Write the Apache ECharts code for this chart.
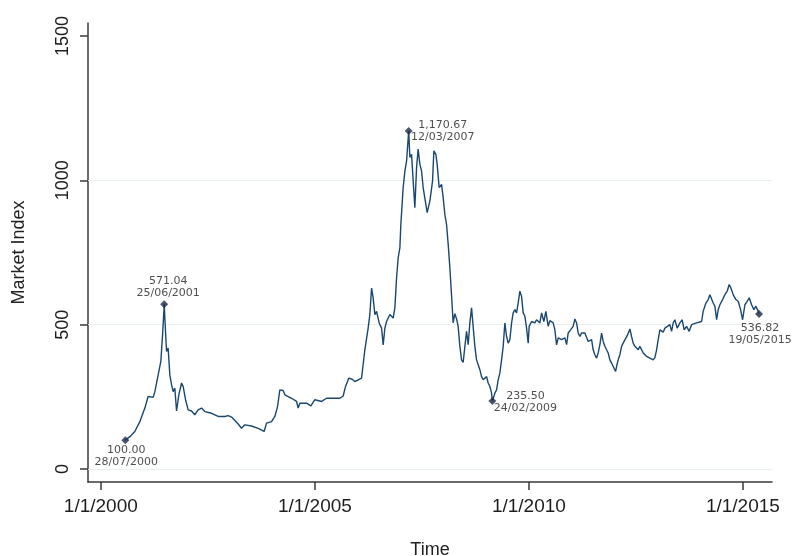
<!DOCTYPE html>
<html><head><meta charset="utf-8">
<script src="https://cdn.jsdelivr.net/npm/echarts@6/dist/echarts.min.js"></script>
<style>html,body{margin:0;padding:0;background:#fff}#c{width:792px;height:556px}</style>
</head><body><div id="c"></div>
<script>
// Time in decimal years
const years = [
2000.570, 2000.678, 2000.794, 2000.911, 2001.028, 2001.105, 2001.145, 2001.222, 2001.262, 2001.339,
2001.402, 2001.442, 2001.482, 2001.495, 2001.535, 2001.572, 2001.612, 2001.652, 2001.689, 2001.729,
2001.769, 2001.822, 2001.886, 2001.923, 2001.979, 2002.040, 2002.119, 2002.196, 2002.273, 2002.353,
2002.430, 2002.586, 2002.741, 2002.897, 2002.974, 2003.054, 2003.208, 2003.287, 2003.364, 2003.521,
2003.675, 2003.815, 2003.871, 2003.988, 2004.065, 2004.128, 2004.182, 2004.259, 2004.299, 2004.456,
2004.572, 2004.610, 2004.650, 2004.806, 2004.907, 2005.000, 2005.157, 2005.273, 2005.390, 2005.584,
2005.661, 2005.717, 2005.794, 2005.871, 2005.935, 2006.091, 2006.168, 2006.245, 2006.285, 2006.325,
2006.362, 2006.402, 2006.442, 2006.502, 2006.558, 2006.596, 2006.636, 2006.675, 2006.752, 2006.829,
2006.869, 2006.909, 2006.946, 2006.986, 2007.009, 2007.063, 2007.103, 2007.143, 2007.192, 2007.220,
2007.259, 2007.297, 2007.336, 2007.376, 2007.413, 2007.453, 2007.493, 2007.530, 2007.593, 2007.624,
2007.687, 2007.750, 2007.780, 2007.827, 2007.857, 2007.904, 2007.960, 2007.998, 2008.037, 2008.077,
2008.115, 2008.154, 2008.194, 2008.231, 2008.271, 2008.311, 2008.348, 2008.388, 2008.427, 2008.465,
2008.505, 2008.544, 2008.582, 2008.621, 2008.661, 2008.698, 2008.738, 2008.778, 2008.815, 2008.855,
2008.895, 2008.932, 2009.012, 2009.049, 2009.089, 2009.128, 2009.148, 2009.206, 2009.245, 2009.283,
2009.322, 2009.362, 2009.400, 2009.439, 2009.479, 2009.516, 2009.556, 2009.596, 2009.633, 2009.673,
2009.712, 2009.750, 2009.790, 2009.829, 2009.867, 2009.907, 2009.946, 2009.984, 2010.007, 2010.063,
2010.140, 2010.180, 2010.257, 2010.297, 2010.350, 2010.397, 2010.451, 2010.491, 2010.568, 2010.607,
2010.647, 2010.685, 2010.764, 2010.841, 2010.881, 2010.918, 2010.974, 2011.035, 2011.075, 2011.114,
2011.152, 2011.192, 2011.231, 2011.308, 2011.348, 2011.386, 2011.425, 2011.465, 2011.502, 2011.542,
2011.582, 2011.619, 2011.659, 2011.699, 2011.736, 2011.776, 2011.815, 2011.853, 2011.893, 2011.932,
2011.970, 2012.026, 2012.049, 2012.086, 2012.126, 2012.166, 2012.203, 2012.243, 2012.297, 2012.360,
2012.399, 2012.437, 2012.477, 2012.516, 2012.554, 2012.593, 2012.633, 2012.671, 2012.710, 2012.750,
2012.787, 2012.827, 2012.867, 2012.904, 2012.944, 2012.984, 2013.021, 2013.061, 2013.100, 2013.138,
2013.178, 2013.217, 2013.294, 2013.334, 2013.372, 2013.411, 2013.465, 2013.528, 2013.582, 2013.628,
2013.684, 2013.745, 2013.801, 2013.918, 2014.035, 2014.072, 2014.136, 2014.189, 2014.229, 2014.269,
2014.306, 2014.346, 2014.386, 2014.423, 2014.463, 2014.526, 2014.579, 2014.633, 2014.680, 2014.720,
2014.773, 2014.836, 2014.890, 2014.946, 2014.993, 2015.047, 2015.100, 2015.147, 2015.203, 2015.257,
2015.304, 2015.357, 2015.378
];
// Market index values
const values = [
100.00, 112, 130, 164, 211, 251, 257, 248, 268, 326,
373, 465, 571.04, 524, 407, 419, 326, 292, 268, 280,
201, 257, 298, 286, 240, 205, 201, 188, 205, 211,
199, 193, 182, 182, 185, 180, 156, 141, 153, 149,
141, 130, 159, 164, 182, 216, 274, 272, 257, 245,
234, 211, 228, 228, 219, 240, 234, 245, 245, 245,
253, 286, 315, 311, 303, 315, 413, 488, 535, 627,
593, 535, 546, 506, 488, 430, 488, 511, 535, 523,
558, 662, 731, 766, 847, 975, 1032, 1067, 1170.67, 1079,
1090, 998, 905, 1044, 1108, 1056, 1032, 975, 917, 888,
928, 998, 1102, 1090, 1056, 975, 986, 940, 882, 847,
778, 697, 600, 506, 538, 520, 494, 425, 378, 369,
425, 477, 431, 506, 558, 494, 425, 378, 373, 344,
320, 309, 320, 298, 286, 263, 235.50, 263, 274, 309,
332, 378, 425, 506, 459, 436, 448, 506, 541, 552,
541, 575, 616, 598, 541, 529, 488, 436, 494, 511,
506, 517, 506, 541, 511, 546, 494, 514, 506, 482,
430, 454, 448, 454, 431, 471, 482, 494, 520, 506,
471, 459, 471, 471, 477, 442, 436, 448, 413, 396,
384, 402, 431, 471, 442, 425, 413, 402, 378, 367,
361, 338, 355, 378, 396, 425, 436, 442, 462, 485,
459, 436, 425, 431, 413, 425, 425, 402, 396, 390,
396, 384, 378, 378, 386, 413, 448, 482, 488, 474,
488, 482, 500, 477, 506, 517, 488, 506, 517, 482,
494, 477, 500, 506, 511, 546, 575, 587, 604, 598,
575, 564, 517, 552, 569, 587, 604, 616, 639, 627,
604, 587, 581, 552, 517, 569, 581, 593, 569, 552,
564, 546, 536.82
];
// Annotated points
const annoDates = ['28/07/2000', '25/06/2001', '12/03/2007', '24/02/2009', '19/05/2015'];
const annoValues = [100.00, 571.04, 1170.67, 235.50, 536.82];
// Axis ticks
const xTicks = [2000, 2005, 2010, 2015];
const yTicks = [0, 500, 1000, 1500];
const gridValues = [0, 500, 1000];

// label placement (style)
const annoOffsets = [[1, 16], [4, -17], [34, 0], [33, 1], [1, 20]];

function toYear(s) {
  const [d, m, y] = s.split('/').map(Number);
  const a = Date.UTC(y, 0, 1), b = Date.UTC(y + 1, 0, 1);
  return y + (Date.UTC(y, m - 1, d) - a) / (b - a);
}
function fmt(v) {
  return v.toLocaleString('en-US', {minimumFractionDigits: 2, maximumFractionDigits: 2});
}

const chart = echarts.init(document.getElementById('c'), null, {renderer: 'canvas'});
const font = 'Liberation Sans, Arial, sans-serif';
chart.setOption({
  animation: false,
  backgroundColor: '#fff',
  grid: {left: 88, right: 20, top: 23, bottom: 74, containLabel: false, outerBoundsMode: 'none'},
  xAxis: {
    type: 'value', min: 1999.70, max: 2015.68,
    name: 'Time', nameLocation: 'middle', nameGap: 59,
    nameTextStyle: {fontSize: 18, color: '#222', fontFamily: font},
    axisLine: {show: true, onZero: false, lineStyle: {color: '#3a3a3a', width: 1.5}},
    axisTick: {show: true, customValues: xTicks, length: 8, lineStyle: {color: '#3a3a3a', width: 1.5}},
    axisLabel: {customValues: xTicks, formatter: v => '1/1/' + v, fontSize: 19, color: '#1e1e1e', fontFamily: font, margin: 15},
    splitLine: {show: false}
  },
  yAxis: {
    type: 'value', min: -45, max: 1545,
    name: 'Market Index', nameLocation: 'middle', nameGap: 60,
    nameTextStyle: {fontSize: 18, color: '#222', fontFamily: font},
    axisLine: {show: true, lineStyle: {color: '#3a3a3a', width: 1.5}},
    axisTick: {show: true, customValues: yTicks, length: 8, lineStyle: {color: '#3a3a3a', width: 1.5}},
    axisLabel: {customValues: yTicks, formatter: v => String(v), rotate: 90, fontSize: 18, color: '#1e1e1e', fontFamily: font, margin: 16},
    splitLine: {show: false}
  },
  series: [
    {
      type: 'line', data: [], z: 1, silent: true,
      markLine: {
        silent: true, symbol: 'none', animation: false,
        label: {show: false},
        lineStyle: {color: '#e8eff0', width: 1, type: 'solid'},
        data: gridValues.map(v => ({yAxis: v}))
      }
    },
    {
      type: 'line', z: 10,
      data: years.map((y, i) => [y, values[i]]),
      showSymbol: false, symbol: 'none',
      lineStyle: {color: '#1a476f', width: 1.4},
      itemStyle: {color: '#1a476f'}
    },
    {
      type: 'scatter', z: 11,
      symbol: 'diamond', symbolSize: 8,
      itemStyle: {color: '#1c2a48'},
      data: annoDates.map((d, i) => ({
        value: [toYear(d), annoValues[i]],
        label: {
          show: true, position: 'inside', offset: annoOffsets[i],
          formatter: fmt(annoValues[i]) + '\n' + d,
          align: 'center', verticalAlign: 'middle',
          color: '#222', fontSize: 11, lineHeight: 12.5,
          fontFamily: 'DejaVu Sans, sans-serif'
        }
      }))
    }
  ]
});
</script>
</body></html>
